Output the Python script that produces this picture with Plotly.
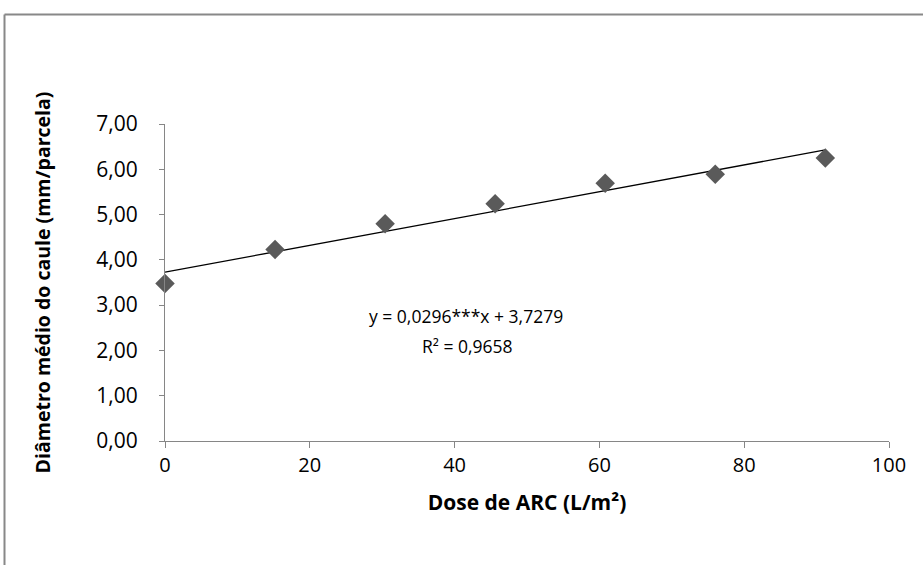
import plotly.graph_objects as go

# Data
dose = [0, 15.2, 30.4, 45.6, 60.8, 76.0, 91.2]
diametro = [3.48, 4.23, 4.80, 5.24, 5.69, 5.89, 6.25]
slope = 0.0296
intercept = 3.7279
r2_text = "R² = 0,9658"
eq_text = "y = 0,0296***x + 3,7279"
x_ticks = [0, 20, 40, 60, 80, 100]
y_ticks = [0, 1, 2, 3, 4, 5, 6, 7]
y_tick_labels = ["0,00", "1,00", "2,00", "3,00", "4,00", "5,00", "6,00", "7,00"]

trend_x = [dose[0], dose[-1]]
trend_y = [intercept + slope * v for v in trend_x]

FONT = "Open Sans"
W, H = 923, 565
L, R, T, B = 165, 34, 124, 124
pw, ph = W - L - R, H - T - B


def px(xp):  # pixel -> paper x
    return (xp - L) / pw


def py(yp):  # pixel -> paper y
    return 1 - (yp - T) / ph


fig = go.Figure()
fig.add_trace(go.Scatter(x=trend_x, y=trend_y, mode="lines",
                         line=dict(color="#000000", width=1.3),
                         hoverinfo="skip", showlegend=False))
fig.add_trace(go.Scatter(x=dose, y=diametro, mode="markers",
                         marker=dict(symbol="diamond", size=15, color="#5a5a5a",
                                     line=dict(width=0)),
                         showlegend=False, cliponaxis=False))

fig.add_annotation(x=px(466), y=py(316), xref="paper", yref="paper", text=eq_text,
                   xanchor="center", yanchor="middle", showarrow=False,
                   font=dict(family=FONT, size=17.5, color="#000"))
fig.add_annotation(x=px(467), y=py(346), xref="paper", yref="paper", text=r2_text,
                   xanchor="center", yanchor="middle", showarrow=False,
                   font=dict(family=FONT, size=17.5, color="#000"))

# outer chart frame (only left and top visible)
frame_col = "#888888"
fig.add_shape(type="line", xref="paper", yref="paper", x0=px(4.5), x1=px(4.5),
              y0=py(14.5), y1=py(620), line=dict(color=frame_col, width=2))
fig.add_shape(type="line", xref="paper", yref="paper", x0=px(4.5), x1=px(980),
              y0=py(14.5), y1=py(14.5), line=dict(color=frame_col, width=2))

fig.update_layout(
    width=W, height=H,
    margin=dict(l=L, r=R, t=T, b=B),
    paper_bgcolor="white", plot_bgcolor="white",
    font=dict(family=FONT, size=17, color="#000"),
    xaxis=dict(range=[0, 100], tickvals=x_ticks, showgrid=False, zeroline=False,
               showline=True, linecolor="#868686", linewidth=1,
               ticks="outside", ticklen=6, tickcolor="#868686",
               tickfont=dict(family=FONT, size=20),
               title=dict(text="<b>Dose de ARC (L/m²)</b>", font=dict(family=FONT, size=21),
                          standoff=18)),
    yaxis=dict(range=[0, 7], tickvals=y_ticks, ticktext=y_tick_labels, showgrid=False,
               zeroline=False, showline=True, linecolor="#868686", linewidth=1,
               ticks="outside", ticklen=5, tickcolor="#868686",
               tickfont=dict(family=FONT, size=21), ticklabelstandoff=17,
               title=dict(text="<b>Diâmetro médio do caule (mm/parcela)</b>",
                          font=dict(family=FONT, size=19.5), standoff=40)),
)

fig.write_html("out.html", config={"displayModeBar": False},
               post_script="document.body.style.margin='0';")
